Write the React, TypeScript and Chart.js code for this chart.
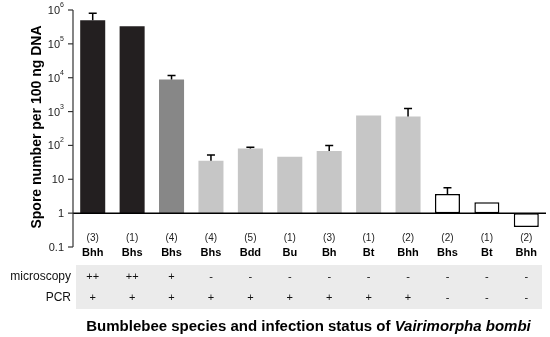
import React, { useEffect, useRef } from "react";
import { Chart, registerables } from "chart.js";

Chart.register(...registerables);

const groupCounts = ["(3)", "(1)", "(4)", "(4)", "(5)", "(1)", "(3)", "(1)", "(2)", "(2)", "(1)", "(2)"];
const species = ["Bhh", "Bhs", "Bhs", "Bhs", "Bdd", "Bu", "Bh", "Bt", "Bhh", "Bhs", "Bt", "Bhh"];
const sporeMeans = [500000, 330000, 8900, 35, 81, 46, 69, 760, 720, 3.7, 2.1, 0.39];
const sporeErrTops: (number | null)[] = [800000, null, 11700, 52, 88, null, 99, null, 1230, 5.6, null, null];
const microscopy = ["++", "++", "+", "-", "-", "-", "-", "-", "-", "-", "-", "-"];
const pcr = ["+", "+", "+", "+", "+", "+", "+", "+", "+", "-", "-", "-"];
const barFills = ["#231f20", "#231f20", "#878787", "#c6c6c6", "#c6c6c6", "#c6c6c6", "#c6c6c6", "#c6c6c6", "#c6c6c6", "#ffffff", "#ffffff", "#ffffff"];
const barBorders = ["#231f20", "#231f20", "#878787", "#c6c6c6", "#c6c6c6", "#c6c6c6", "#c6c6c6", "#c6c6c6", "#c6c6c6", "#000000", "#000000", "#000000"];
const yTicks = [0.1, 1, 10, 100, 1000, 10000, 100000, 1000000];
const yTickBase = ["0.1", "1", "10", "10", "10", "10", "10", "10"];
const yTickExp = ["", "", "", "2", "3", "4", "5", "6"];
const yTitle = "Spore number per 100 ng DNA";
const xTitleMain = "Bumblebee species and infection status of ";
const xTitleItalic = "Vairimorpha bombi";
const rowLabels = ["microscopy", "PCR"];

const FONT = "'Liberation Sans', Arial, Helvetica, sans-serif";

const overlay = {
  id: "overlay",
  afterDatasetsDraw(chart: any) {
    const ctx = chart.ctx as CanvasRenderingContext2D;
    const x = chart.scales.x;
    const y = chart.scales.y;
    const area = chart.chartArea;
    ctx.save();
    ctx.strokeStyle = "#000";
    ctx.fillStyle = "#000";

    // error bars
    ctx.lineWidth = 1.5;
    sporeErrTops.forEach((e, i) => {
      if (e == null) return;
      const cx = x.getPixelForValue(i);
      const y0 = y.getPixelForValue(sporeMeans[i]);
      const y1 = y.getPixelForValue(e);
      ctx.beginPath();
      ctx.moveTo(cx, y0);
      ctx.lineTo(cx, y1);
      ctx.moveTo(cx - 4, y1);
      ctx.lineTo(cx + 4, y1);
      ctx.stroke();
    });

    // baseline at 1
    const yb = y.getPixelForValue(1);
    ctx.lineWidth = 1.5;
    ctx.beginPath();
    ctx.moveTo(area.left, yb);
    ctx.lineTo(area.right, yb);
    ctx.stroke();

    // y axis
    ctx.strokeStyle = "#333";
    ctx.lineWidth = 1.2;
    ctx.beginPath();
    ctx.moveTo(area.left, area.top);
    ctx.lineTo(area.left, area.bottom);
    ctx.stroke();
    ctx.textBaseline = "middle";
    yTicks.forEach((t, i) => {
      const py = y.getPixelForValue(t);
      ctx.beginPath();
      ctx.moveTo(area.left - 5, py);
      ctx.lineTo(area.left, py);
      ctx.stroke();
      const exp = yTickExp[i];
      const right = area.left - 9;
      ctx.fillStyle = "#222";
      if (exp) {
        ctx.font = `7px ${FONT}`;
        ctx.textAlign = "right";
        const ew = ctx.measureText(exp).width;
        ctx.fillText(exp, right, py - 5);
        ctx.font = `11px ${FONT}`;
        ctx.fillText(yTickBase[i], right - ew, py + 1);
      } else {
        ctx.font = `11px ${FONT}`;
        ctx.textAlign = "right";
        ctx.fillText(yTickBase[i], right, py + 1);
      }
    });
    ctx.fillStyle = "#000";

    // y title
    ctx.save();
    ctx.translate(37, 127);
    ctx.rotate(-Math.PI / 2);
    ctx.font = `bold 14px ${FONT}`;
    ctx.textAlign = "center";
    ctx.textBaseline = "middle";
    ctx.fillText(yTitle, 0, 0);
    ctx.restore();

    // category labels
    ctx.textAlign = "center";
    ctx.textBaseline = "middle";
    species.forEach((s, i) => {
      const cx = x.getPixelForValue(i);
      ctx.font = `10px ${FONT}`;
      ctx.fillStyle = "#222";
      ctx.fillText(groupCounts[i], cx, 238);
      ctx.fillStyle = "#000";
      ctx.font = `bold 11px ${FONT}`;
      ctx.fillText(s, cx, 253);
    });

    // table background
    ctx.fillStyle = "#ebebeb";
    ctx.fillRect(76, 265, 466, 44);
    ctx.fillStyle = "#111";
    ctx.font = `12px ${FONT}`;
    ctx.textAlign = "right";
    ctx.fillText(rowLabels[0], 71, 277);
    ctx.fillText(rowLabels[1], 71, 298);
    ctx.textAlign = "center";
    ctx.font = `11px ${FONT}`;
    species.forEach((_, i) => {
      const cx = x.getPixelForValue(i);
      ctx.fillText(microscopy[i], cx, 277);
      ctx.fillText(pcr[i], cx, 298);
    });

    // x title
    ctx.fillStyle = "#000";
    ctx.font = `bold 15px ${FONT}`;
    const w1 = ctx.measureText(xTitleMain).width;
    ctx.font = `italic bold 15px ${FONT}`;
    const w2 = ctx.measureText(xTitleItalic).width;
    const startX = 308.5 - (w1 + w2) / 2;
    ctx.textAlign = "left";
    ctx.font = `bold 15px ${FONT}`;
    ctx.fillText(xTitleMain, startX, 327);
    ctx.font = `italic bold 15px ${FONT}`;
    ctx.fillText(xTitleItalic, startX + w1, 327);

    ctx.restore();
  },
};

export default function App() {
  const ref = useRef<HTMLCanvasElement>(null);
  useEffect(() => {
    document.body.style.margin = "0";
    const chart = new Chart(ref.current!, {
      type: "bar",
      data: {
        labels: species.map((s, i) => `${groupCounts[i]} ${s} ${i}`),
        datasets: [
          {
            data: sporeMeans.map((v) => [1, v]) as any,
            backgroundColor: barFills,
            borderColor: barBorders,
            borderWidth: barBorders.map((c, i) => (i >= 9 ? 1.5 : 0)),
            borderSkipped: false,
            categoryPercentage: 1,
            barPercentage: 0.635,
          },
        ],
      },
      options: {
        responsive: false,
        animation: false,
        events: [],
        layout: { padding: { left: 73, right: 4, top: 10, bottom: 90 } },
        plugins: { legend: { display: false }, tooltip: { enabled: false } },
        scales: {
          x: { display: false },
          y: { type: "logarithmic", display: false, min: 0.1, max: 1000000 },
        },
      },
      plugins: [overlay],
    });
    return () => chart.destroy();
  }, []);
  return (
    <div style={{ position: "fixed", left: 0, top: 0, width: 550, height: 337, background: "#fff" }}>
      <canvas ref={ref} width={550} height={337} />
    </div>
  );
}
